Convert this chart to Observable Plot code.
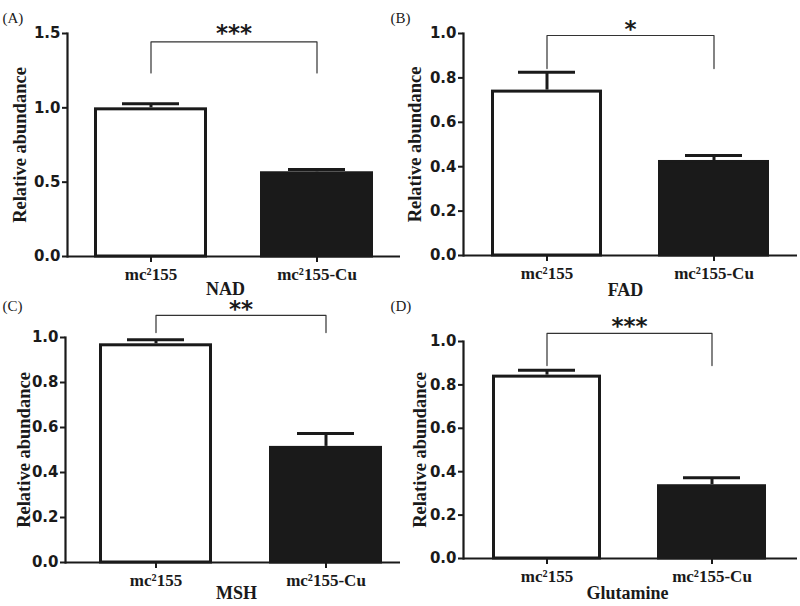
<!DOCTYPE html>
<html><head><meta charset="utf-8">
<script src="https://cdn.jsdelivr.net/npm/d3@7"></script>
<script src="https://cdn.jsdelivr.net/npm/@observablehq/plot@0.6"></script>
<style>
body{margin:0;background:#fff;}
#fig{position:relative;width:800px;height:606px;overflow:hidden;background:#fff;}
.panel{position:absolute;}
</style></head><body><div id="fig"></div>
<script>
// ---- data ----
const categories = ["mc²155", "mc²155-Cu"];
const metabolites = ["NAD", "FAD", "MSH", "Glutamine"];
const panelLetters = ["(A)", "(B)", "(C)", "(D)"];
const nadMean = [1.0, 0.57];
const nadErr = [0.027, 0.015];
const fadMean = [0.745, 0.428];
const fadErr = [0.08, 0.022];
const mshMean = [0.972, 0.516];
const mshErr = [0.018, 0.057];
const glnMean = [0.845, 0.34];
const glnErr = [0.023, 0.032];
const yMax = [1.5, 1.0, 1.0, 1.0];
const yTicks = [
  [0, 0.5, 1.0, 1.5],
  [0, 0.2, 0.4, 0.6, 0.8, 1.0],
  [0, 0.2, 0.4, 0.6, 0.8, 1.0],
  [0, 0.2, 0.4, 0.6, 0.8, 1.0]
];
const significance = ["***", "*", "**", "***"];
const bracketTop = [1.443, 0.991, 1.098, 1.037];
const bracketBottom = [1.235, 0.842, 1.022, 0.889];
const yLabel = "Relative abundance";

const means = [nadMean, fadMean, mshMean, glnMean];
const errs = [nadErr, fadErr, mshErr, glnErr];

// ---- layout (pixels) ----
const layout = [
  {left: 0,   top: 0,   width: 400, height: 300, mL: 67, mT: 33, mB: 44, mR: 0, band: [94, 373],  barW: 113, labelX: 20, nameX: 225, nameDy: 38, letterY: 22, starDy: -1},
  {left: 388, top: 0,   width: 412, height: 300, mL: 75, mT: 33, mB: 45, mR: 3, band: [103, 381], barW: 111, labelX: 27, nameX: 237, nameDy: 40, letterY: 22, starDy: 2},
  {left: 0,   top: 300, width: 400, height: 306, mL: 65, mT: 37, mB: 44, mR: 0, band: [99, 382],  barW: 113, labelX: 24, nameX: 236, nameDy: 36, letterY: 10, starDy: 2},
  {left: 388, top: 300, width: 412, height: 306, mL: 75, mT: 41, mB: 48, mR: 3, band: [104, 378], barW: 109, labelX: 32, nameX: 239, nameDy: 40, letterY: 10, starDy: 1}
];
const INK = "#1a1a1a";
const SERIF = "'Liberation Serif', 'Times New Roman', serif";
const SANS = "'DejaVu Sans', sans-serif";

const fig = document.getElementById("fig");
layout.forEach((L, i) => {
  const rows = categories.map((c, j) => ({cat: c, mean: means[i][j], top: means[i][j] + errs[i][j]}));
  const step = L.band[1] - L.band[0] - L.barW;
  const pi = 1 - L.barW / step;
  const capInset = (L.barW - 57) / 2;
  const frameCenter = (L.mL + L.width - L.mR) / 2;
  const bracket = [
    {cat: categories[0], y: bracketBottom[i]},
    {cat: categories[0], y: bracketTop[i]},
    {cat: categories[1], y: bracketTop[i]},
    {cat: categories[1], y: bracketBottom[i]}
  ];
  const chart = Plot.plot({
    width: L.width, height: L.height,
    marginLeft: L.mL, marginTop: L.mT, marginBottom: L.mB, marginRight: L.mR,
    style: {background: "transparent", color: INK, fontFamily: SANS, fontSize: "14px", fontWeight: "bold", overflow: "visible"},
    x: {type: "band", domain: categories, range: L.band, paddingInner: pi, paddingOuter: 0, align: 0.5},
    y: {domain: [0, yMax[i]]},
    color: {domain: categories, range: ["white", INK]},
    marks: [
      Plot.barY(rows, {x: "cat", y: "mean", fill: "cat", stroke: INK, strokeWidth: 3, insetLeft: 1.5, insetRight: 1.5, insetTop: 1.5}),
      Plot.ruleX(rows, {x: "cat", y1: "mean", y2: "top", stroke: INK, strokeWidth: 3}),
      Plot.tickY(rows, {x: "cat", y: "top", stroke: INK, strokeWidth: 3, insetLeft: capInset, insetRight: capInset}),
      Plot.ruleY([0], {stroke: INK, strokeWidth: 2.2}),
      Plot.frame({anchor: "left", stroke: INK, strokeWidth: 2.2}),
      Plot.axisY({ticks: yTicks[i], tickFormat: d3.format(".1f"), tickSize: 5, tickPadding: 2, strokeWidth: 2, label: null,
                  fontFamily: SANS, fontSize: 15, fontWeight: "bold"}),
      Plot.axisX({tickSize: 6, tickPadding: 5, strokeWidth: 2, label: null,
                  fontFamily: SERIF, fontSize: 17, fontWeight: "bold"}),
      Plot.line(bracket, {x: "cat", y: "y", stroke: "#333", strokeWidth: 1.2}),
      Plot.text([significance[i]], {x: () => categories[0], y: () => bracketTop[i], text: d => d, dx: step / 2, dy: L.starDy,
                  lineAnchor: "bottom", fontFamily: SANS, fontSize: 23, fontWeight: "bold", fill: INK}),
      Plot.text([yLabel], {frameAnchor: "left", rotate: -90, dx: L.labelX - L.mL, text: d => d, textAnchor: "middle", lineAnchor: "middle",
                  fontFamily: SERIF, fontSize: 18.5, fontWeight: "bold", fill: INK}),
      Plot.text([metabolites[i]], {frameAnchor: "bottom", dx: L.nameX - frameCenter, dy: L.nameDy, lineAnchor: "bottom", textAnchor: "middle", text: d => d,
                  fontFamily: SERIF, fontSize: 18, fontWeight: "bold", fill: INK}),
      Plot.text([panelLetters[i]], {frameAnchor: "top-left", dx: 2 - L.mL, dy: L.letterY - L.mT, lineAnchor: "bottom", textAnchor: "start", text: d => d,
                  fontFamily: SERIF, fontSize: 15, fontWeight: "normal", fill: INK})
    ]
  });
  const div = document.createElement("div");
  div.className = "panel";
  div.style.left = L.left + "px";
  div.style.top = L.top + "px";
  div.appendChild(chart);
  fig.appendChild(div);
});
</script></body></html>
